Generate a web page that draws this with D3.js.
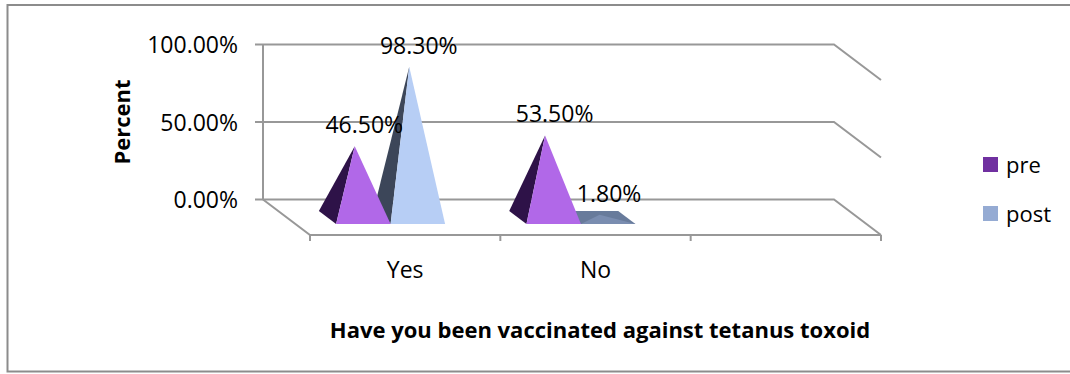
<!DOCTYPE html>
<html>
<head>
<meta charset="utf-8">
<script src="https://cdn.jsdelivr.net/npm/d3@7/dist/d3.min.js"></script>
<style>
html,body{margin:0;padding:0;background:#fff}
svg{display:block}
text{font-family:"Open Sans","Noto Sans",sans-serif;fill:#000}
</style>
</head>
<body>
<svg id="chart" width="1070" height="374"></svg>
<script>
// Chart values
const categories = ["Yes", "No", ""];
const seriesNames = ["pre", "post"];
const preValues = [46.5, 53.5];
const postValues = [98.3, 1.8];
const valueTicks = [0, 50, 100];

// Shaded pyramid faces per series and category: [side, front]
const preFaces = [["#2e1248", "#b168e8"], ["#2e1248", "#b168e8"]];
const postFaces = [["#3c4659", "#b7cef5"], ["#687b9b", "#7a8db0"]];
const legendColors = ["#7030a0", "#95abd3"];

const svg = d3.select("#chart");
const fmt = d => d3.format(".2f")(d) + "%";

// Oblique projection: depth 0 is the front of the floor, depth 1 the back wall
const depthDX = 47, depthDY = 35.5;
const x = d3.scaleBand().domain(categories).range([310, 881]);
const y = d3.scaleLinear().domain([0, 100]).range([235, 80]);
const project = (px, value, depth) => [px - depthDX * depth, y(value) - depthDY * depth];

// Pyramids sit between these depths and are foreshortened slightly
const depthFront = 0.31, depthBack = 0.676, heightScale = 0.99;
const apexDepth = (depthFront + depthBack) / 2;
const group = d3.scaleBand().domain(seriesNames).range([-54.5, 54.5]);

// Chart area border; its right edge runs past the page
svg.append("rect").attr("x", 7.5).attr("y", 5).attr("width", 1070).attr("height", 366.5)
  .attr("fill", "#fff").attr("stroke", "#8c8c8c").attr("stroke-width", 2);

// Walls, floor and gridlines
const axisColor = "#989898";
const line = d3.line();
const frame = svg.append("g").attr("fill", "none").attr("stroke", axisColor).attr("stroke-width", 2);
valueTicks.forEach(t => {
  frame.append("path").attr("d", line([
    [project(x.range()[0], t, 1)[0] - 8, project(0, t, 1)[1]],
    project(x.range()[0], t, 1),
    project(x.range()[1], t, 1),
    project(x.range()[1], t, 0)
  ]));
});
frame.append("path").attr("d", line([project(x.range()[0], 0, 1), project(x.range()[0], 100, 1)]));
frame.append("path").attr("d", line([project(x.range()[0], 0, 1), project(x.range()[0], 0, 0), project(x.range()[1], 0, 0)]));
x.domain().map(c => x(c)).concat(x.range()[1]).forEach(px => {
  frame.append("path").attr("d", line([[px, y(0)], [px, y(0) + 6]]));
});

// Value axis labels
svg.append("g").selectAll("text").data(valueTicks).join("text")
  .attr("x", 238).attr("y", d => project(0, d, 1)[1] + 8.5)
  .attr("text-anchor", "end").attr("font-size", 23).text(fmt);

const seriesCenter = (category, seriesIndex) =>
  x(category) + x.bandwidth() / 2 + group(seriesNames[seriesIndex]) + group.bandwidth() / 2;

// One pyramid: visible left side and front face meeting at the apex
function pyramid(category, seriesIndex, value, faces) {
  const cx = seriesCenter(category, seriesIndex);
  const left = cx - group.bandwidth() / 2, right = cx + group.bandwidth() / 2;
  const apex = project(cx, value * heightScale, apexDepth);
  const fl = project(left, 0, depthFront), fr = project(right, 0, depthFront);
  const bl = project(left, 0, depthBack), br = project(right, 0, depthBack);
  const g = svg.append("g");
  g.append("path").attr("fill", faces[0]).attr("d", line([bl, apex, fl]) + "Z");
  if (value < 10) {
    // A very short pyramid also shows its back and right sides past the apex
    g.append("path").attr("fill", faces[0]).attr("d", line([bl, br, fr, fl]) + "Z");
  }
  g.append("path").attr("fill", faces[1]).attr("d", line([fl, apex, fr]) + "Z");
}
// The later series stands behind the earlier one in each category
categories.slice(0, 2).forEach((c, i) => {
  pyramid(c, 1, postValues[i], postFaces[i]);
  pyramid(c, 0, preValues[i], preFaces[i]);
});

// Data labels, drawn above the pyramids
const labelData = [
  {c: "Yes", s: 0, v: preValues[0]},
  {c: "Yes", s: 1, v: postValues[0]},
  {c: "No", s: 0, v: preValues[1]},
  {c: "No", s: 1, v: postValues[1]}
];
svg.append("g").selectAll("text").data(labelData).join("text")
  .attr("x", d => project(seriesCenter(d.c, d.s), 0, apexDepth)[0] + 9.5)
  .attr("y", d => project(0, d.v * heightScale, apexDepth)[1] - 13)
  .attr("text-anchor", "middle").attr("font-size", 23)
  .text(d => fmt(d.v));

// Category labels
svg.append("g").selectAll("text").data(categories.slice(0, 2)).join("text")
  .attr("x", d => x(d) + x.bandwidth() / 2).attr("y", 278)
  .attr("text-anchor", "middle").attr("font-size", 23).text(d => d);

// Axis titles
svg.append("text").attr("x", 600).attr("y", 338).attr("text-anchor", "middle")
  .attr("font-size", 22).attr("font-weight", 700)
  .text("Have you been vaccinated against tetanus toxoid");
svg.append("text").attr("transform", "translate(130,122) rotate(-90)").attr("text-anchor", "middle")
  .attr("font-size", 22).attr("font-weight", 700).text("Percent");

// Legend
const legend = svg.append("g").selectAll("g").data(seriesNames).join("g")
  .attr("transform", (d, i) => `translate(983,${157 + i * 49})`);
legend.append("rect").attr("width", 15).attr("height", 15).attr("fill", (d, i) => legendColors[i]);
legend.append("text").attr("x", 23).attr("y", 16).attr("font-size", 22).text(d => d);
</script>
</body>
</html>
